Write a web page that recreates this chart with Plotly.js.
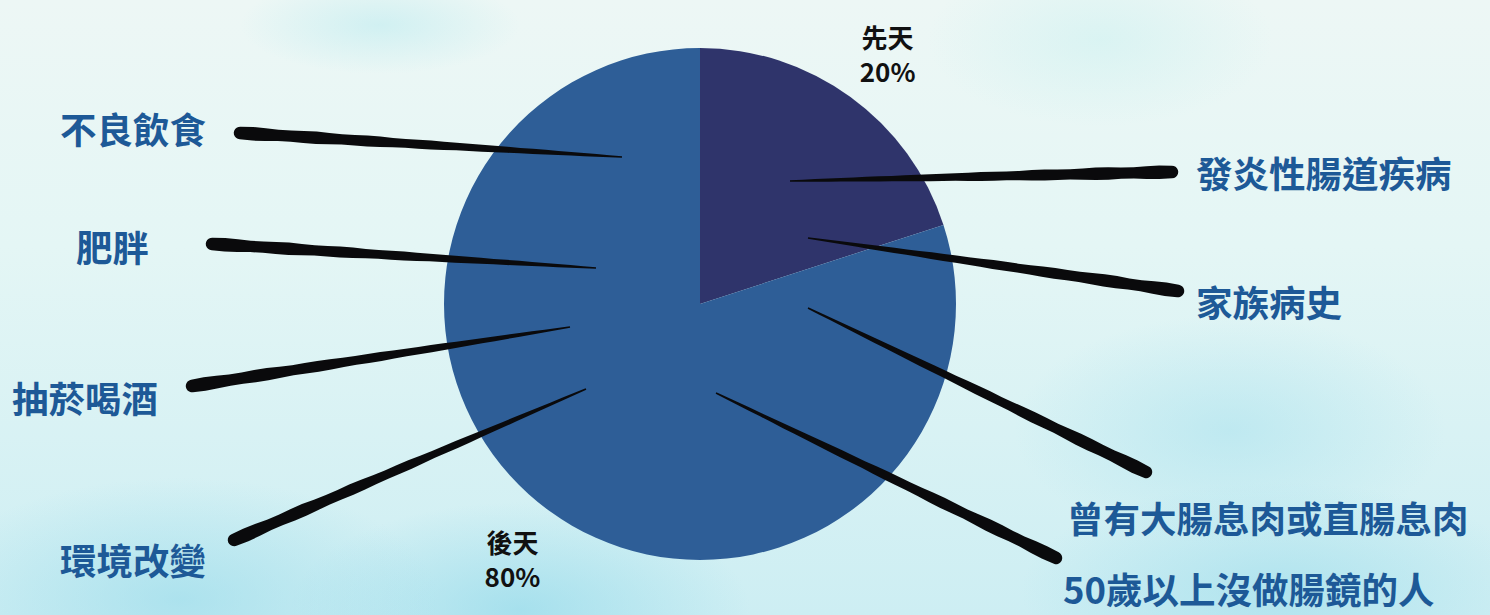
<!DOCTYPE html>
<html>
<head>
<meta charset="utf-8">
<script src="https://cdn.plot.ly/plotly-3.0.1.min.js"></script>
<style>
  html, body { margin: 0; padding: 0; }
  body {
    width: 1490px; height: 615px; overflow: hidden;
    background:
      radial-gradient(ellipse 360px 170px at 180px 600px, rgba(150,218,234,0.6), rgba(150,218,234,0) 72%),
      radial-gradient(ellipse 320px 150px at 520px 610px, rgba(140,215,233,0.6), rgba(140,215,233,0) 72%),
      radial-gradient(ellipse 200px 70px at 380px 25px, rgba(175,232,238,0.45), rgba(175,232,238,0) 70%),
      radial-gradient(ellipse 300px 160px at 1230px 430px, rgba(165,224,237,0.5), rgba(165,224,237,0) 72%),
      radial-gradient(ellipse 360px 150px at 1280px 590px, rgba(150,218,234,0.55), rgba(150,218,234,0) 72%),
      radial-gradient(ellipse 240px 120px at 1100px 40px, rgba(200,240,240,0.5), rgba(200,240,240,0) 72%),
      linear-gradient(180deg, #edf7f5 0%, #e4f6f5 40%, #cdeef3 100%);
  }
  #chart { width: 1490px; height: 615px; }
</style>
</head>
<body>
<div id="chart"></div>
<script>
// ---- data ----
const categories = ['先天', '後天'];
const shares = [20, 80];
const sliceColors = ['#2f346b', '#2e5e97'];
const factorLabels = ['不良飲食', '肥胖', '抽菸喝酒', '環境改變',
                      '發炎性腸道疾病', '家族病史', '曾有大腸息肉或直腸息肉', '50歲以上沒做腸鏡的人'];

// ---- layout helpers (pixel -> paper, margins are zero) ----
const W = 1490, H = 615;
const px = x => x / W;
const py = y => 1 - y / H;

// label placement [x(left), y(center)] and leader stroke [thick end, tip]
const labelPos = [[58,128],[74,246],[10,397],[58,559],[1194,172],[1194,302],[1065,517],[1061,588]];
const strokePos = [
  [[240,133],[622,157]],
  [[212,244],[596,268]],
  [[192,386],[570,327]],
  [[234,540],[586,389]],
  [[1172,172],[790,181]],
  [[1178,291],[808,238]],
  [[1146,472],[808,308]],
  [[1056,558],[716,393]]
];

function strokePath(a, b, w0) {
  const dx = b[0]-a[0], dy = b[1]-a[1];
  const L = Math.hypot(dx, dy);
  const ux = dx/L, uy = dy/L, nx = -uy, ny = ux;
  const N = 30;
  const left = [], right = [];
  for (let i = 0; i <= N; i++) {
    const t = i/N;
    const wob = 1 + 0.1*Math.sin(t*41) * (1-t);
    const hw = w0/2 * (1 - 0.88*Math.pow(t, 1.5)) * wob;
    const cx = a[0] + dx*t, cy = a[1] + dy*t;
    left.push([cx + nx*hw, cy + ny*hw]);
    right.push([cx - nx*hw, cy - ny*hw]);
  }
  const capPts = [];
  for (let k = 1; k < 10; k++) {
    const th = Math.PI*k/10;
    const hw = w0/2;
    capPts.push([a[0] - ux*hw*Math.sin(th) - nx*hw*Math.cos(th),
                 a[1] - uy*hw*Math.sin(th) - ny*hw*Math.cos(th)]);
  }
  const pts = left.concat(right.reverse()).concat(capPts);
  return 'M ' + pts.map(p => px(p[0]).toFixed(5) + ',' + py(p[1]).toFixed(5)).join(' L ') + ' Z';
}

const shapes = strokePos.map(s => ({
  type: 'path', xref: 'paper', yref: 'paper',
  path: strokePath(s[0], s[1], 12.5),
  fillcolor: '#0a0a0c', line: {width: 0}, layer: 'above'
}));

const font = 'Noto Sans CJK TC, Noto Sans CJK SC, sans-serif';

const annotations = factorLabels.map((t, i) => ({
  text: '<b>' + t + '</b>', xref: 'paper', yref: 'paper',
  x: px(labelPos[i][0]), y: py(labelPos[i][1]),
  xanchor: 'left', yanchor: 'middle', showarrow: false,
  font: {family: font, size: 36.5, color: '#1d5997'}
}));

// main pie (slices)
const pieTrace = {
  type: 'pie',
  labels: categories,
  values: shares,
  sort: false,
  direction: 'clockwise',
  rotation: 0,
  marker: {colors: sliceColors, line: {width: 0}},
  textinfo: 'none',
  hoverinfo: 'label+percent',
  domain: {x: [px(443), px(957)], y: [py(560), py(48)]},
  showlegend: false
};

// same data, transparent slices, slightly larger: carries the outside labels
const labelTrace = {
  type: 'pie',
  labels: categories,
  values: shares,
  sort: false,
  direction: 'clockwise',
  rotation: -4,
  marker: {colors: ['rgba(0,0,0,0)', 'rgba(0,0,0,0)'], line: {width: 0}},
  texttemplate: '<b>%{label}</b><br><b>%{percent}</b>',
  textposition: 'outside',
  textfont: {family: font, size: 26, color: '#111111'},
  hoverinfo: 'skip',
  domain: {x: [px(431), px(969)], y: [py(574), py(38)]},
  showlegend: false
};

const layout = {
  width: W, height: H,
  margin: {l: 0, r: 0, t: 0, b: 0},
  paper_bgcolor: 'rgba(0,0,0,0)',
  plot_bgcolor: 'rgba(0,0,0,0)',
  showlegend: false,
  shapes: shapes,
  annotations: annotations
};

Plotly.newPlot('chart', [pieTrace, labelTrace], layout, {displayModeBar: false, staticPlot: true});
</script>
</body>
</html>
